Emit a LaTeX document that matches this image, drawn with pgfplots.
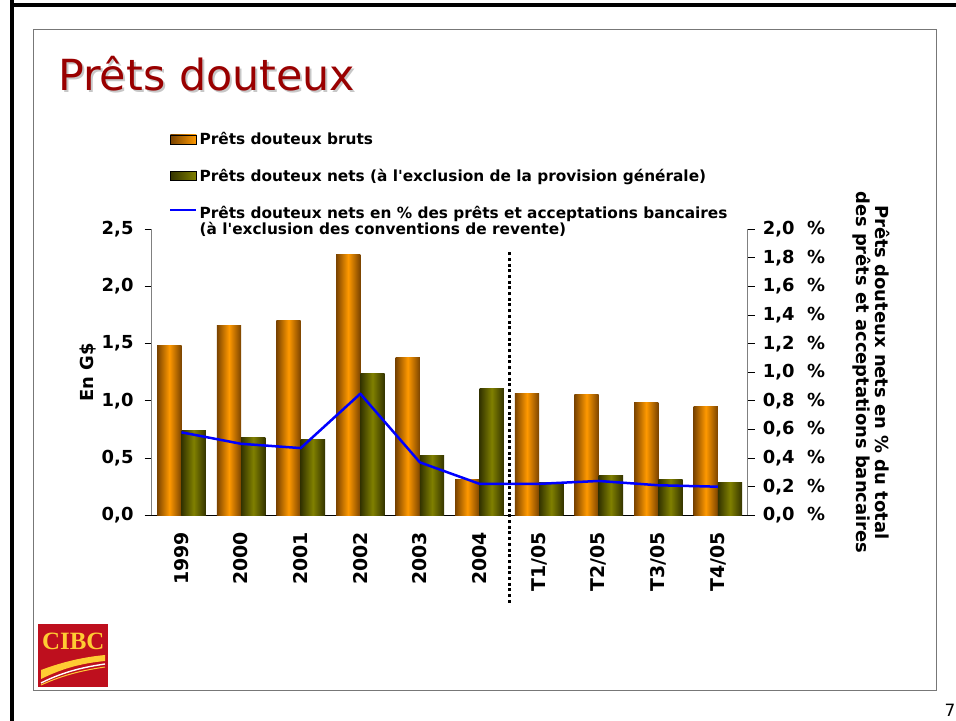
\documentclass[border=0pt]{standalone}
\usepackage{fontspec}
\setmainfont{DejaVu Sans}
\newfontfamily\cibcfont{Liberation Serif}
\usepackage{pgfplots}
\usepackage{pgfplotstable}
\pgfplotsset{compat=1.18}
\definecolor{titlered}{HTML}{990000}
\definecolor{odark}{HTML}{7A4300}
\definecolor{obright}{HTML}{FF9900}
\definecolor{gdark}{HTML}{333300}
\definecolor{gmid}{HTML}{808000}
\definecolor{framegray}{HTML}{777777}
\definecolor{axisgray}{HTML}{808080}
\definecolor{cibcred}{HTML}{BE0F1E}
\definecolor{cibcyellow}{HTML}{FFCC33}

\pgfplotstableread{
x gross net pct
0 1.485 0.74 0.58
1 1.66 0.68 0.50
2 1.705 0.66 0.47
3 2.28 1.24 0.85
4 1.38 0.52 0.37
5 0.31 1.11 0.22
6 1.065 0.29 0.22
7 1.055 0.35 0.24
8 0.99 0.31 0.21
9 0.95 0.29 0.20
}\datatable

\begin{document}
\begin{tikzpicture}
\begin{scope}[x=1bp,y=1bp]
\useasboundingbox (0,0) rectangle (956,721);
\fill[black] (9.5,0) rectangle (13.5,721);
\fill[black] (9.5,713.5) rectangle (956,717.5);
\draw[framegray, line width=1.3bp] (33.3,30.3) rectangle (936.7,691.7);
% title with shadow
\node[anchor=base west, inner sep=0pt, text=black!22, font=\fontsize{43}{50}\selectfont] at (60,628) {Prêts douteux};
\node[anchor=base west, inner sep=0pt, text=titlered, font=\fontsize{43}{50}\selectfont] at (58,630) {Prêts douteux};
% logo
\fill[cibcred] (38.3,34.3) rectangle (108.3,97);
\node[anchor=base, inner sep=0pt, text=cibcyellow, font=\cibcfont\bfseries\fontsize{25}{25}\selectfont] at (73.3,71) {CIBC};
\fill[cibcyellow] (41,51) .. controls (65,60) and (85,64) .. (105,66) -- (105,60) .. controls (85,58) and (65,54) .. (41,42) -- cycle;
\draw[white, line width=1.4bp] (41,38) .. controls (65,50) and (85,54) .. (105,57);
\draw[cibcyellow, line width=1bp] (41,36) .. controls (65,47) and (85,51) .. (105,54);
% page number
\node[anchor=base west, inner sep=0pt, font=\fontsize{17}{17}\selectfont] at (944.5,4.3) {71};
\end{scope}

\begin{axis}[
  scale only axis, width=596bp, height=286bp,
  at={(151.7bp,205.7bp)}, anchor=south west,
  xmin=-0.5, xmax=9.5, ymin=0, ymax=2.5,
  axis x line*=bottom, axis y line*=left,
  axis line style={-},
  x axis line style={black, line width=1.2bp},
  y axis line style={axisgray, line width=1bp},
  xtick={0,...,9},
  xticklabels={1999,2000,2001,2002,2003,2004,T1/05,T2/05,T3/05,T4/05},
  x tick label style={rotate=90, anchor=east, inner sep=0pt, font=\fontsize{19}{20}\selectfont\bfseries},
  xtick style={draw=none},
  xticklabel shift=9.5bp,
  ytick={0,0.5,1,1.5,2,2.5},
  yticklabel={\pgfmathprintnumber[fixed,fixed zerofill,precision=1,use comma]{\tick}},
  y tick label style={inner sep=0pt, font=\fontsize{18}{20}\selectfont\bfseries},
  yticklabel shift=11bp,
  ytick style={black, line width=1bp},
  /pgf/number format/assume math mode=true,
  tick align=outside, major tick length=7bp,
  ylabel={En G\$},
  every axis y label/.style={at={(axis description cs:-0.107,0.5)}, rotate=90, anchor=center, font=\fontsize{18}{20}\selectfont\bfseries},
  clip=false,
  legend style={at={(axis description cs:0.029,1.346)}, anchor=north west, draw=none, fill=none,
    font=\fontsize{15.4}{16.5}\selectfont\bfseries, row sep=19bp, inner sep=0pt,
    cells={anchor=west, align=left}},
]
\pgfplotsinvokeforeach{0,...,9}{
  \addplot[ybar, bar width=24.3bp, bar shift=-12.15bp, draw=none, forget plot,
    left color=odark, right color=odark, middle color=obright,
    x filter/.expression={abs(x-#1)<0.1 ? x : nan}]
    table[x=x,y=gross]{\datatable};
  \addplot[ybar, bar width=24.3bp, bar shift=12.15bp, draw=none, forget plot,
    left color=gdark, right color=gdark, middle color=gmid,
    x filter/.expression={abs(x-#1)<0.1 ? x : nan}]
    table[x=x,y=net]{\datatable};
}
\addlegendimage{legend image code/.code={\fill[left color=odark, right color=obright] (0bp,-4.5bp) rectangle (26bp,4.5bp);}}
\addlegendentry{Prêts douteux bruts}
\addlegendimage{legend image code/.code={\fill[left color=gdark, right color=gmid] (0bp,-4.5bp) rectangle (26bp,4.5bp);}}
\addlegendentry{Prêts douteux nets (à l\textquotesingle exclusion de la provision générale)}
\addlegendimage{legend image code/.code={\draw[blue, line width=2.5bp] (0bp,11bp) -- (26bp,11bp);}}
\addlegendentry{Prêts douteux nets en \% des prêts et acceptations bancaires\\(à l\textquotesingle exclusion des conventions de revente)}
\end{axis}

\begin{axis}[
  scale only axis, width=596bp, height=286bp,
  at={(151.7bp,205.7bp)}, anchor=south west,
  xmin=-0.5, xmax=9.5, ymin=0, ymax=2.0,
  axis x line=none, axis y line*=right,
  axis line style={-},
  y axis line style={axisgray, line width=1bp},
  ytick={0,0.2,0.4,0.6,0.8,1.0,1.2,1.4,1.6,1.8,2.0},
  yticklabel={\pgfmathprintnumber[fixed,fixed zerofill,precision=1,use comma]{\tick}\hspace{0.7em}\%},
  y tick label style={inner sep=0pt, anchor=west, font=\fontsize{18}{20}\selectfont\bfseries},
  yticklabel shift=8bp,
  ytick style={black, line width=1bp},
  /pgf/number format/assume math mode=true,
  tick align=outside, major tick length=7bp,
  ylabel={Prêts douteux nets en \% du total\\des prêts et acceptations bancaires},
  every axis y label/.style={at={(axis description cs:1.207,0.5)}, rotate=-90, anchor=center, align=center, font=\fontsize{18}{19}\selectfont\bfseries},
  clip=false,
]
\addplot[blue, line width=2.5bp, line join=round] table[x=x,y=pct]{\datatable};
\draw[black, line width=3.3bp, dash pattern=on 3bp off 2.7bp] (axis cs:5.5,1.84) -- (axis cs:5.5,-0.62);
\end{axis}
\end{tikzpicture}
\end{document}
